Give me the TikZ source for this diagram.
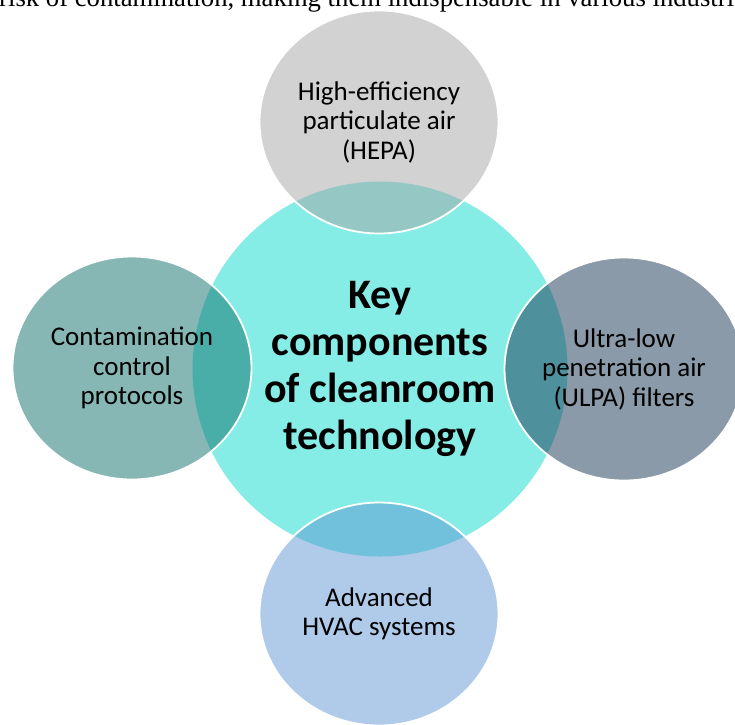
\documentclass[tikz,border=0pt]{standalone}
\usepackage{fontspec}
\setmainfont{Carlito}
\newfontfamily\bodyserif{Liberation Serif}
\usetikzlibrary{shapes.geometric}

\definecolor{hubcyan}{RGB}{134,237,230}
\definecolor{hepagrey}{RGB}{165,165,165}
\definecolor{ctrlteal}{RGB}{13,111,107}
\definecolor{ulpaslate}{RGB}{23,53,81}
\definecolor{hvacblue}{RGB}{95,151,211}

\tikzset{
  hub/.style={circle, fill=hubcyan, minimum size=375pt, inner sep=0pt,
    align=center, font=\bfseries\fontsize{42}{47}\selectfont},
  petal/.style={ellipse, minimum width=239pt, minimum height=223pt,
    inner sep=0pt, draw=white, line width=1.8pt, fill opacity=0.5,
    text opacity=1, align=center, font=\fontsize{27}{29.5}\selectfont}
}

\begin{document}
\begin{tikzpicture}[x=1pt, y=-1pt]
    \useasboundingbox (0,0) rectangle (735,724);
    \clip (0,0) rectangle (735,724);

    % Line of running text above the figure
    \node[anchor=base west, inner sep=0pt, font=\bodyserif\fontsize{26.7}{32}\selectfont]
      (runin) at (-1,6.7) {risk of contamination, making them indispensable in various industri};

    % Central circle
    \node[hub] (core) at (380,369) {Key\\components\\of cleanroom\\technology};

    % Four components around it
    \node[petal, fill=hepagrey] (hepa) at (379,122) {High-efficiency\\particulate air\\(HEPA)};
    \node[petal, fill=ctrlteal] (ctrl) at (132,368) {Contamination\\control\\protocols};
    \node[petal, fill=ulpaslate] (ulpa) at (624,369) {Ultra-low\\penetration air\\(ULPA) filters};
    \node[petal, fill=hvacblue] (hvac) at (379,614) {Advanced\\HVAC systems};
\end{tikzpicture}
\end{document}
